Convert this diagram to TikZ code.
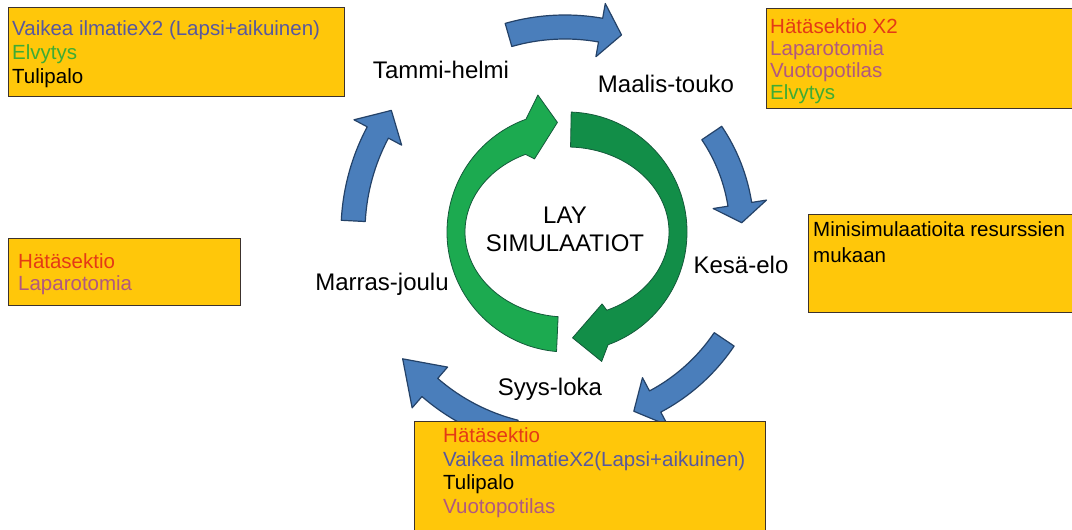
\documentclass[tikz,border=0pt]{standalone}
\usepackage{fontspec}
\setmainfont{Liberation Sans}
\usepackage{tikz}
\usetikzlibrary{calc}

\definecolor{boxgold}{RGB}{255,199,10}
\definecolor{boxline}{RGB}{60,50,45}
\definecolor{sectio}{RGB}{228,58,22}
\definecolor{laparo}{RGB}{176,88,128}
\definecolor{airway}{RGB}{88,88,158}
\definecolor{cpr}{RGB}{62,172,52}
\definecolor{arrowblue}{RGB}{74,126,187}
\definecolor{arrowdark}{RGB}{36,66,104}
\definecolor{greenlight}{RGB}{28,170,80}
\definecolor{greendark}{RGB}{18,142,72}
\definecolor{greenline}{RGB}{20,90,58}

\tikzset{
  infobox/.style={draw=boxline, line width=1pt, fill=boxgold, rectangle, inner sep=0pt, anchor=north west},
  boxtext/.style={anchor=base west, align=left, inner sep=0pt, font=\fontsize{20.5}{#1}\selectfont},
  boxtext/.default=24,
  month/.style={font=\fontsize{24}{28}\selectfont, inner sep=0pt},
  bluearrow/.style={fill=arrowblue, draw=arrowdark, line width=1.2pt, line join=round},
  greenarrow/.style={draw=greenline, line width=0.8pt, line join=round},
}

% curved arrow of the outer ring: radius, tail angle, head angle, tip angle
\newcommand{\ringarrow}[4]{%
  \draw[bluearrow] ($(C)+(#2:#1+12)$) arc[start angle=#2, end angle=#3, radius=#1+12]
    -- ($(C)+(#3:#1+27)$) -- ($(C)+(#4:#1)$) -- ($(C)+(#3:#1-27)$)
    -- ($(C)+(#3:#1-12)$) arc[start angle=#3, end angle=#2, radius=#1-12] -- cycle;}

\begin{document}
\begin{tikzpicture}[x=1pt,y=1pt]
\useasboundingbox (0,0) rectangle (1072,-530);
\fill[white] (0,0) rectangle (1072,-530);

\coordinate (C) at (565,-232);
\coordinate (G) at (567,-232);

% outer ring
\ringarrow{205}{106}{80}{74}
\ringarrow{177}{34}{9}{3}
\ringarrow{192}{-34}{-62}{-69}
\ringarrow{206}{-104}{-131}{-142}
\ringarrow{212}{177}{152}{145}

% inner circle
\draw[greenarrow, fill=greenlight] ($(G)+(265:120 and 120)$)
  arc[start angle=265, end angle=110, x radius=120, y radius=120]
  -- ($(G)+(102:140)$) -- ($(G)+(95:110)$) -- ($(G)+(114:80)$)
  -- ($(G)+(114:102 and 85)$)
  arc[start angle=114, end angle=265, x radius=102, y radius=85] -- cycle;
\draw[greenarrow, fill=greendark] ($(G)+(88:120 and 120)$)
  arc[start angle=88, end angle=-70, x radius=120, y radius=120]
  -- ($(G)+(-75:134)$) -- ($(G)+(-87:106)$) -- ($(G)+(-64:80)$)
  -- ($(G)+(-67:102 and 85)$)
  arc[start angle=-67, end angle=88, x radius=102, y radius=85] -- cycle;

\node[month, align=center, font=\fontsize{24}{28}\selectfont] (lay) at (565,-229) {LAY\\SIMULAATIOT};
\node[month] (tammi) at (441,-70) {Tammi-helmi};
\node[month] (maalis) at (666,-84) {Maalis-touko};
\node[month] (kesa) at (741,-265) {Kesä-elo};
\node[month] (syys) at (550,-389) {Syys-loka};
\node[month] (marras) at (382,-284) {Marras-joulu};

% boxes
\node[infobox, minimum width=336pt, minimum height=89pt] (boxtammi) at (8,-7) {};
\node[infobox, minimum width=310pt, minimum height=100pt] (boxmaalis) at (766,-8) {};
\node[infobox, minimum width=232pt, minimum height=67pt] (boxmarras) at (8,-238) {};
\node[infobox, minimum width=268pt, minimum height=98pt] (boxkesa) at (808,-214) {};
\node[infobox, minimum width=351pt, minimum height=112pt] (boxsyys) at (414,-421) {};

% text anchored at the baseline of its last line
\node[boxtext] (txttammi) at (12,-83) {\textcolor{airway}{Vaikea ilmatieX2 (Lapsi+aikuinen)}\\
  \textcolor{cpr}{Elvytys}\\ Tulipalo};
\node[boxtext=22] (txtmaalis) at (770,-99) {\textcolor{sectio}{Hätäsektio X2}\\
  \textcolor{laparo}{Laparotomia}\\ \textcolor{laparo}{Vuotopotilas}\\ \textcolor{cpr}{Elvytys}};
\node[boxtext=22] (txtmarras) at (18,-290) {\textcolor{sectio}{Hätäsektio}\\
  \textcolor{laparo}{Laparotomia}};
\node[boxtext=26] (txtkesa) at (813,-262) {Minisimulaatioita resurssien\\ mukaan};
\node[boxtext=23.5] (txtsyys) at (443,-513) {\textcolor{sectio}{Hätäsektio}\\
  \textcolor{airway}{Vaikea ilmatieX2(Lapsi+aikuinen)}\\ Tulipalo\\ \textcolor{laparo}{Vuotopotilas}};
\end{tikzpicture}
\end{document}
